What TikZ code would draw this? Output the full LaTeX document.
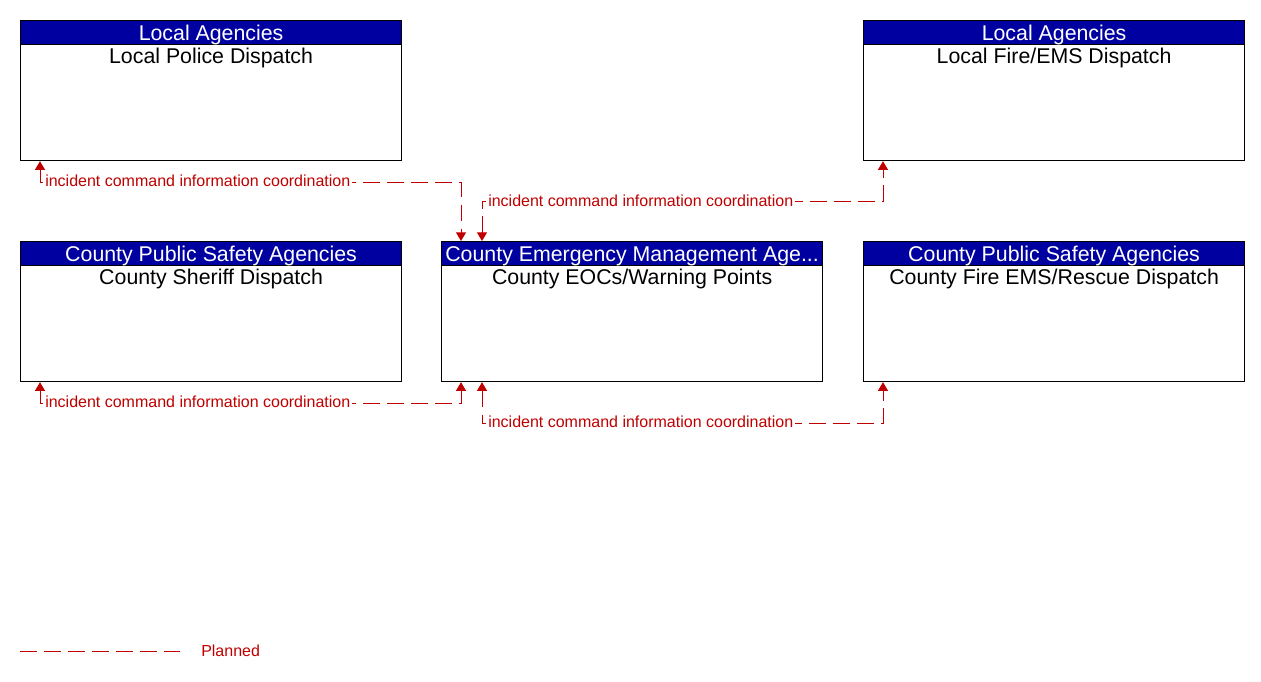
\documentclass[tikz,border=0pt]{standalone}
\usepackage{fontspec}
\setmainfont{Liberation Sans}
\usetikzlibrary{arrows.meta,calc}
\definecolor{hdrblue}{RGB}{0,0,160}
\definecolor{flowred}{RGB}{192,0,0}
\tikzset{
  box/.style={draw=black, line width=0.9pt, anchor=north west, inner sep=0pt,
    minimum width=285.75pt, minimum height=105pt},
  hdr/.style={draw=black, line width=0.9pt, fill=hdrblue, text=white, anchor=north,
    inner sep=0pt, minimum width=285.75pt, minimum height=18pt, text depth=0pt,
    font=\fontsize{16}{19}\selectfont},
  body/.style={anchor=center, inner sep=0pt, font=\fontsize{16}{19}\selectfont},
  conn/.style={draw=flowred, line width=0.75pt, dash pattern=on 12.5pt off 5.5pt,
    {Triangle[width=7.5pt,length=6.5pt]}-{Triangle[width=7.5pt,length=6.5pt]}},
  flowlbl/.style={text=flowred, fill=white, inner xsep=1.5pt, inner ysep=1pt,
    anchor=west, font=\fontsize{12}{14}\selectfont},
}
\begin{document}
\begin{tikzpicture}[x=0.75pt,y=-0.75pt]
\useasboundingbox (0,0) rectangle (1261,682);
% boxes
\node[box] (lp) at (20,20) {};
\node[hdr] (lp-h) at (lp.north) {Local Agencies};
\node[body] (lp-t) at ($(lp.north)+(0,38)$) {Local Police Dispatch};

\node[box] (lf) at (863,20) {};
\node[hdr] (lf-h) at (lf.north) {Local Agencies};
\node[body] (lf-t) at ($(lf.north)+(0,38)$) {Local Fire/EMS Dispatch};

\node[box] (sd) at (20,241) {};
\node[hdr] (sd-h) at (sd.north) {County Public Safety Agencies};
\node[body] (sd-t) at ($(sd.north)+(0,38)$) {County Sheriff Dispatch};

\node[box] (eoc) at (441,241) {};
\node[hdr] (eoc-h) at (eoc.north) {County Emergency Management Age...};
\node[body] (eoc-t) at ($(eoc.north)+(0,38)$) {County EOCs/Warning Points};

\node[box] (cf) at (863,241) {};
\node[hdr] (cf-h) at (cf.north) {County Public Safety Agencies};
\node[body] (cf-t) at ($(cf.north)+(0,38)$) {County Fire EMS/Rescue Dispatch};

% connectors
\draw[conn] ($(lp.south west)+(20,0)$) -- ++(0,21) -| ($(eoc.north west)+(20,0)$);
\node[flowlbl] (l1) at (43,181) {incident command information coordination};

\draw[conn] ($(eoc.north west)+(41,0)$) -- ++(0,-40) -| ($(lf.south west)+(20,0)$);
\node[flowlbl] (l2) at (486,201) {incident command information coordination};

\draw[conn] ($(sd.south west)+(20,0)$) -- ++(0,21) -| ($(eoc.south west)+(20,0)$);
\node[flowlbl] (l3) at (43,402) {incident command information coordination};

\draw[conn] ($(eoc.south west)+(41,0)$) -- ++(0,41) -| ($(cf.south west)+(20,0)$);
\node[flowlbl] (l4) at (486,422) {incident command information coordination};

% legend
\coordinate (lg1) at (20,651);
\coordinate (lg2) at (180,651);
\draw[draw=flowred, line width=0.75pt, dash pattern=on 12.5pt off 5.5pt] (lg1) -- (lg2);
\node[text=flowred, anchor=west, inner sep=0pt, font=\fontsize{12}{14}\selectfont] (lgt) at (201,651) {Planned};
\end{tikzpicture}
\end{document}
